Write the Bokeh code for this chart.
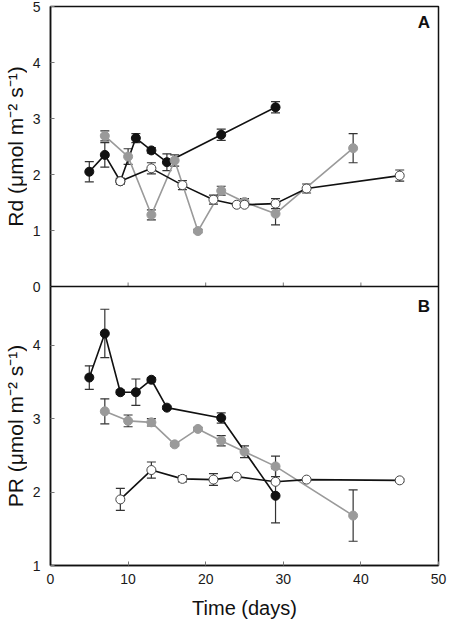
import math
from bokeh.plotting import figure
from bokeh.models import (ColumnDataSource, Whisker, TeeHead, FixedTicker, Label,
                          Range1d, Span, CustomJSTickFormatter)
from bokeh.layouts import row
from bokeh.core.properties import value
from bokeh.embed import file_html
from bokeh.resources import INLINE

# ---------------- data ----------------
x_ticks = [0, 10, 20, 30, 40, 50]
a_y_ticks = [0, 1, 2, 3, 4, 5]
b_y_ticks = [1, 2, 3, 4]
a_y_lim = (0, 5)
b_y_lim = (1, 4.8)
x_lim = (0, 50)

A_black_x = [5, 7, 9, 11, 13, 15, 22, 29]
A_black_y = [2.05, 2.35, 1.88, 2.65, 2.43, 2.22, 2.71, 3.20]
A_black_e = [0.18, 0.22, 0.05, 0.08, 0.05, 0.15, 0.10, 0.10]

A_grey_x = [7, 10, 13, 16, 19, 22, 25, 29, 39]
A_grey_y = [2.69, 2.32, 1.28, 2.25, 0.99, 1.71, 1.51, 1.30, 2.47]
A_grey_e = [0.09, 0.14, 0.09, 0.10, 0.03, 0.08, 0.06, 0.20, 0.26]

A_white_x = [9, 13, 17, 21, 24, 25, 29, 33, 45]
A_white_y = [1.88, 2.11, 1.81, 1.55, 1.46, 1.46, 1.48, 1.75, 1.98]
A_white_e = [0.05, 0.10, 0.08, 0.08, 0.0, 0.0, 0.09, 0.08, 0.10]

B_black_x = [5, 7, 9, 11, 13, 15, 22, 29]
B_black_y = [3.56, 4.16, 3.36, 3.36, 3.53, 3.15, 3.01, 1.95]
B_black_e = [0.16, 0.33, 0.03, 0.18, 0.03, 0.02, 0.07, 0.37]

B_grey_x = [7, 10, 13, 16, 19, 22, 25, 29, 39]
B_grey_y = [3.10, 2.97, 2.95, 2.65, 2.86, 2.70, 2.55, 2.35, 1.68]
B_grey_e = [0.17, 0.08, 0.05, 0.02, 0.02, 0.07, 0.08, 0.14, 0.35]

B_white_x = [9, 13, 17, 21, 24, 29, 33, 45]
B_white_y = [1.90, 2.30, 2.18, 2.17, 2.21, 2.14, 2.17, 2.16]
B_white_e = [0.15, 0.11, 0.04, 0.08, 0.0, 0.02, 0.0, 0.02]

A_label = "Rd (μmol m⁻² s⁻¹)"
B_label = "PR (μmol m⁻² s⁻¹)"
x_label = "Time (days)"
panel_letters = ["A", "B"]

# ---------------- style / layout ----------------
FONT = "Liberation Sans"
BLACK = "#111111"
GREY = "#9a9a9a"
ERR = "#333333"
H_A = 280   # pixel height of panel A
H_B = 279   # pixel height of panel B
TOP = 6
TITLE_W = 27
FRAME_W = 388

# main y range = panel B scale extended upward over panel A
b_per_px = (b_y_lim[1] - b_y_lim[0]) / H_B
main_end = b_y_lim[1] + H_A * b_per_px
a_per_px = (a_y_lim[1] - a_y_lim[0]) / H_A
a_start = a_y_lim[0] - H_B * a_per_px


def a_to_main(v):
    return round(b_y_lim[1] + (v - a_y_lim[0]) / a_per_px * b_per_px, 6)


p = figure(output_backend="svg", toolbar_location=None,
           frame_width=FRAME_W, frame_height=H_A + H_B,
           x_range=Range1d(*x_lim), y_range=Range1d(b_y_lim[0], main_end),
           min_border_left=23, min_border_right=9,
           min_border_top=TOP, min_border_bottom=0)
p.extra_y_ranges = {"A": Range1d(a_start, a_y_lim[1])}
p.grid.visible = False
p.outline_line_color = BLACK
p.outline_line_width = 1.5
p.background_fill_color = "white"
p.border_fill_color = "white"

for ax in (p.xaxis[0], p.yaxis[0]):
    ax.axis_line_color = BLACK
    ax.axis_line_width = 1.5
    ax.major_tick_in = 4
    ax.major_tick_out = 0
    ax.minor_tick_in = 0
    ax.minor_tick_out = 0
    ax.major_tick_line_color = "#777777"
    ax.major_label_text_font = FONT
    ax.major_label_text_font_size = "14px"
    ax.major_label_text_color = "#1a1a1a"
    ax.axis_label_text_font = FONT
    ax.axis_label_text_font_style = "normal"
    ax.axis_label_text_font_size = "20px"
    ax.axis_label_text_color = "#111111"

p.xaxis.ticker = FixedTicker(ticks=x_ticks)
p.xaxis.major_label_standoff = 8
p.xaxis.axis_label_standoff = 10
p.xaxis.axis_label = x_label

a_tick_pos = [a_to_main(v) for v in a_y_ticks]
p.yaxis.ticker = FixedTicker(ticks=b_y_ticks + a_tick_pos)
p.yaxis.formatter = CustomJSTickFormatter(
    args=dict(pos=a_tick_pos, labs=[str(v) for v in a_y_ticks]),
    code="""
for (let i = 0; i < pos.length; i++) {
  if (Math.abs(pos[i] - tick) < 1e-6) { return labs[i]; }
}
return tick.toFixed(0);
""")
p.yaxis.major_label_standoff = 10

# boundary between the two panels, and x ticks on panel A's bottom edge
p.add_layout(Span(location=b_y_lim[1], dimension="width",
                  line_color=BLACK, line_width=1.5))
inner_ticks = x_ticks[1:-1]
p.segment(x0=inner_ticks, x1=inner_ticks,
          y0=[b_y_lim[1]] * len(inner_ticks),
          y1=[b_y_lim[1] + 4 * b_per_px] * len(inner_ticks),
          line_color="#777777", line_width=1)


def add_series(xs, ys, es, line_color, fill_color, outline_color, rng=None):
    src = ColumnDataSource(dict(x=xs, y=ys,
                                upper=[a + b for a, b in zip(ys, es)],
                                lower=[a - b for a, b in zip(ys, es)]))
    kw = {"y_range_name": rng} if rng else {}
    w = Whisker(base="x", upper="upper", lower="lower", source=src,
                line_color=ERR, line_width=1.2,
                upper_head=TeeHead(size=9, line_color=ERR, line_width=1.2),
                lower_head=TeeHead(size=9, line_color=ERR, line_width=1.2),
                **kw)
    p.add_layout(w)
    p.line("x", "y", source=src, line_color=line_color, line_width=1.6, **kw)
    p.scatter("x", "y", source=src, size=9, fill_color=fill_color,
              line_color=outline_color, line_width=1, **kw)


add_series(A_black_x, A_black_y, A_black_e, BLACK, BLACK, BLACK, "A")
add_series(A_grey_x, A_grey_y, A_grey_e, GREY, GREY, GREY, "A")
add_series(A_white_x, A_white_y, A_white_e, BLACK, "white", "#444444", "A")

add_series(B_black_x, B_black_y, B_black_e, BLACK, BLACK, BLACK)
add_series(B_grey_x, B_grey_y, B_grey_e, GREY, GREY, GREY)
add_series(B_white_x, B_white_y, B_white_e, BLACK, "white", "#444444")

# panel letters
p.add_layout(Label(x=48.9, y=4.55, y_range_name="A", text=panel_letters[0],
                   text_align="right", text_font=FONT, text_font_style="bold",
                   text_font_size="17px", text_color="#111111"))
p.add_layout(Label(x=48.9, y=4.40, text=panel_letters[1], text_align="right",
                   text_font=FONT, text_font_style="bold",
                   text_font_size="17px", text_color="#111111"))

# y axis titles drawn in a narrow companion plot sharing the vertical scale
t = figure(output_backend="svg", toolbar_location=None,
           frame_width=TITLE_W, frame_height=H_A + H_B,
           x_range=Range1d(0, TITLE_W), y_range=p.y_range,
           x_axis_location=None, y_axis_location=None,
           min_border_left=0, min_border_right=0,
           min_border_top=TOP, min_border_bottom=0)
t.grid.visible = False
t.outline_line_color = None
t.background_fill_color = "white"
t.border_fill_color = "white"
t.text(x=[14.5, 14.5],
       y=[a_to_main(sum(a_y_lim) / 2), sum(b_y_lim) / 2],
       text=[A_label, B_label],
       angle=math.pi / 2, text_align="center", text_baseline="middle",
       text_font=value(FONT), text_font_size=value("21px"),
       text_color="#111111")

layout = row(t, p, spacing=0)
open("out.html", "w").write(file_html(layout, INLINE))
